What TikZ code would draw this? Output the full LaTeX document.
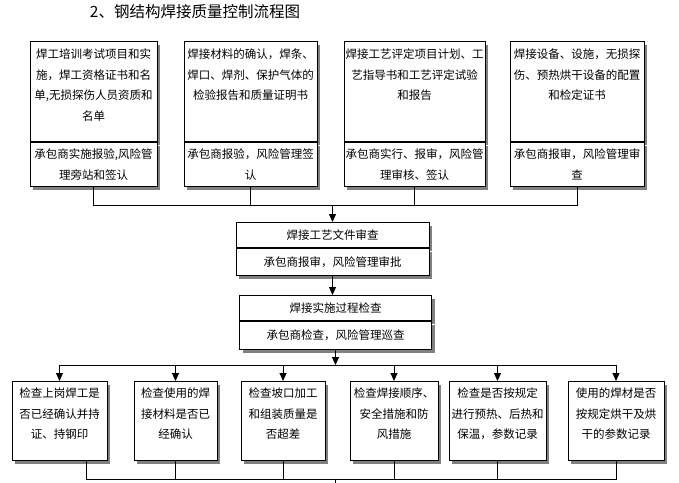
\documentclass[tikz,border=0pt]{standalone}
\usepackage{fontspec}
\setmainfont{Noto Sans CJK SC}
\usetikzlibrary{positioning}
\usetikzlibrary{shadows}
\usetikzlibrary{arrows.meta}
\tikzset{%
  mybox/.style={draw=black, fill=white, line width=1pt, align=center, inner xsep=1pt,
    font=\fontsize{11.5}{20.5}\selectfont,
    drop shadow={shadow xshift=3pt, shadow yshift=-3pt, fill=black!50, opacity=1}},
  upbox/.style={mybox, anchor=north, inner ysep=4pt, text height=13pt, text depth=79pt},
  lowbox/.style={mybox, inner ysep=2pt, minimum height=44pt},
  midbox/.style={mybox, anchor=north, inner ysep=2pt, minimum height=25pt},
  chkbox/.style={mybox, anchor=north, inner ysep=4pt, text height=12pt, text depth=59pt},
  myedge/.style={-{Triangle[width=7pt,length=8pt]}, line width=1pt},
  myline/.style={line width=1pt}
}
\begin{document}
\begin{tikzpicture}[x=1pt, y=-1pt]
  \useasboundingbox (0,0) rectangle (679,482);
  \node[font=\fontsize{15.5}{18}\selectfont] (title) at (195,12) {2、钢结构焊接质量控制流程图};
  % top row
  \node[upbox, text width=125pt] (t1) at (93.5,41) {焊工培训考试项目和实\\施，焊工资格证书和名\\单,无损探伤人员资质和\\名单};
  \node[upbox, text width=131pt, right=26pt of t1] (t2) {焊接材料的确认，焊条、\\焊口、焊剂、保护气体的\\检验报告和质量证明书};
  \node[upbox, text width=139pt, right=26pt of t2] (t3) {焊接工艺评定项目计划、工\\艺指导书和工艺评定试验\\和报告};
  \node[upbox, text width=132pt, right=24pt of t3] (t4) {焊接设备、设施，无损探\\伤、预热烘干设备的配置\\和检定证书};
  \node[lowbox, text width=125pt, below=0pt of t1] (t1l) {承包商实施报验,风险管\\理旁站和签认};
  \node[lowbox, text width=131pt, below=0pt of t2] (t2l) {承包商报验，风险管理签\\认};
  \node[lowbox, text width=139pt, below=0pt of t3] (t3l) {承包商实行、报审，风险管\\理审核、签认};
  \node[lowbox, text width=132pt, below=0pt of t4] (t4l) {承包商报审，风险管理审\\查};
  \coordinate[below=18pt] (hub1) at (t1l.south);
  \draw[myline] (t1l.south) -- (hub1) -| (t4l.south);
  \draw[myline] (t2l.south) -- (t2l.south |- hub1);
  \draw[myline] (t3l.south) -- (t3l.south |- hub1);
  % middle
  \node[midbox, text width=191pt] (f1) at (332.5,222) {焊接工艺文件审查};
  \node[midbox, text width=191pt, minimum height=27pt, below=0pt of f1] (f1l) {承包商报审，风险管理审批};
  \node[midbox, text width=190pt, below=19pt of f1l, xshift=3pt] (f2) {焊接实施过程检查};
  \node[midbox, text width=190pt, minimum height=28pt, below=0pt of f2] (f2l) {承包商检查，风险管理巡查};
  \draw[myedge] (hub1 -| f1.north) -- (f1.north);
  \draw[myedge] (f1l.south) -- (f1l.south |- f2.north);
  \coordinate[below=15pt] (hub2) at (f2l.south);
  \draw[myedge] (f2l.south) -- (hub2);
  % checks
  \node[chkbox, text width=93pt] (b1) at (59.5,381) {检查上岗焊工是\\否已经确认并持\\证、持钢印};
  \node[chkbox, text width=81pt, right=26pt of b1] (b2) {检查使用的焊\\接材料是否已\\经确认};
  \node[chkbox, text width=82pt, right=23pt of b2] (b3) {检查坡口加工\\和组装质量是\\否超差};
  \node[chkbox, text width=86pt, right=24pt of b3] (b4) {检查焊接顺序、\\安全措施和防\\风措施};
  \node[chkbox, text width=95pt, right=10pt of b4] (b5) {检查是否按规定\\进行预热、后热和\\保温，参数记录};
  \node[chkbox, text width=94pt, right=21pt of b5] (b6) {使用的焊材是否\\按规定烘干及烘\\干的参数记录};
  \draw[myline] (hub2 -| b1.north) -- (hub2 -| b6.north);
  \draw[myedge] (hub2 -| b1.north) -- (b1.north);
  \draw[myedge] (hub2 -| b2.north) -- (b2.north);
  \draw[myedge] (hub2 -| b3.north) -- (b3.north);
  \draw[myedge] (hub2 -| b4.north) -- (b4.north);
  \draw[myedge] (hub2 -| b5.north) -- (b5.north);
  \draw[myedge] (hub2 -| b6.north) -- (b6.north);
  \coordinate[below=18pt, xshift=26.5pt] (hub3) at (b1.south);
  \draw[myline] ([xshift=26.5pt]b1.south) -- (hub3) -| (b6.south);
  \draw[myline] (b2.south) -- (b2.south |- hub3);
  \draw[myline] (b3.south) -- (b3.south |- hub3);
  \draw[myline] (b4.south) -- (b4.south |- hub3);
  \draw[myline] (b5.south) -- (b5.south |- hub3);
  \coordinate[below=4pt] (tail) at (hub3 -| f2l.south);
  \draw[myline] (hub3 -| f2l.south) -- (tail);
\end{tikzpicture}
\end{document}
